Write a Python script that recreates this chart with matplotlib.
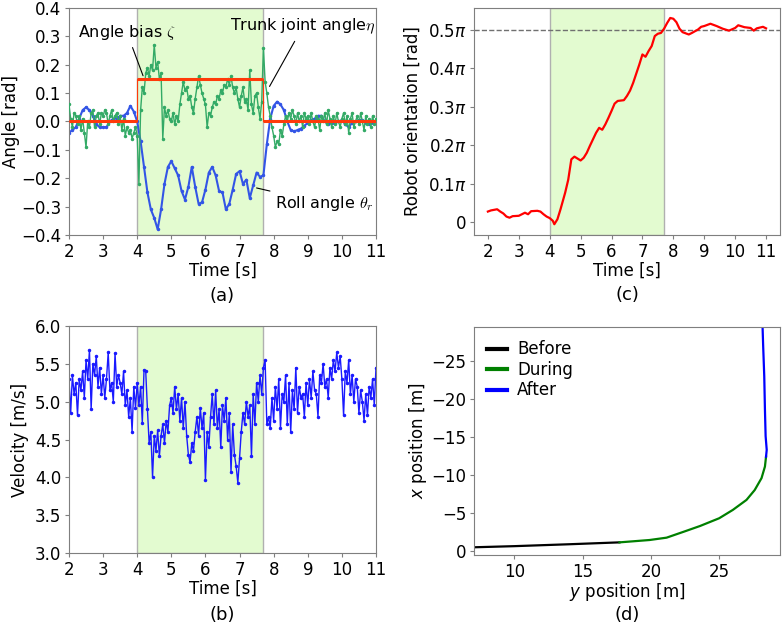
import numpy as np
import matplotlib
matplotlib.use("Agg")
import matplotlib.pyplot as plt

plt.rcParams['font.family'] = ['DejaVu Sans']
plt.rcParams['font.size'] = 12
plt.rcParams['mathtext.fontset'] = 'dejavusans'

# disturbance window
t_on, t_off = 4.0, 7.7

# (a) trunk joint angle, sampled every 0.05 s from 2 s
trunk = [0.06, 0.01, -0.02, 0.03, 0.02, -0.01, 0.02, -0.03, 0.01, -0.04,
         -0.09, 0.00, -0.02, 0.03, 0.04, -0.02, 0.02, 0.03, -0.01, 0.03,
         0.02, 0.04, 0.03, -0.01, 0.02, 0.04, 0.00, 0.02, 0.03, -0.01,
         0.02, -0.03, 0.01, -0.05, -0.02, -0.04, -0.03, -0.06, -0.04, -0.02,
         -0.05, -0.22, 0.04, 0.12, 0.10, 0.17, 0.19, 0.16, 0.20, 0.18,
         0.27, 0.19, 0.21, 0.15, 0.17, -0.06, 0.05, 0.02, 0.04, 0.01,
         0.00, 0.03, -0.01, 0.02, 0.00, 0.06, 0.10, 0.14, 0.11, 0.12,
         0.08, 0.09, 0.05, 0.03, 0.08, 0.12, 0.16, 0.13, 0.10, 0.08,
         0.06, -0.02, 0.03, 0.02, 0.05, 0.07, 0.06, 0.09, 0.08, 0.11,
         0.10, 0.13, 0.12, 0.15, 0.13, 0.16, 0.12, 0.10, 0.12, 0.08,
         0.05, 0.09, 0.12, 0.07, 0.08, 0.04, 0.18, 0.06, 0.03, 0.09,
         0.10, 0.05, 0.01, 0.07, 0.26, 0.14, 0.10, 0.05, 0.02, -0.02,
         -0.05, -0.09, -0.07, -0.08, -0.03, -0.05, -0.01, 0.02, 0.00, 0.03,
         0.01, 0.04, 0.02, -0.01, 0.03, 0.00, 0.02, -0.02, 0.03, 0.01,
         0.02, -0.01, 0.03, 0.00, -0.02, 0.02, 0.01, -0.03, 0.02, 0.00,
         0.03, -0.01, 0.04, 0.01, -0.02, 0.02, -0.01, 0.03, 0.00, -0.02,
         0.01, 0.03, -0.01, 0.02, -0.04, 0.01, 0.03, -0.02, 0.00, 0.02,
         -0.01, 0.03, 0.00, -0.03, 0.02, -0.01, 0.01, -0.02, 0.02, -0.01,
         0.01]

# (a) roll angle, sampled every 0.1 s from 2 s
roll = [-0.04, -0.03, -0.02, 0.01, 0.04, 0.05, 0.04, 0.02, -0.01, -0.02,
        -0.02, -0.02, 0.00, 0.01, 0.01, 0.02, 0.02, 0.03, 0.055, 0.035,
        0.00, -0.07, -0.16, -0.25, -0.31, -0.34, -0.38, -0.31, -0.22, -0.16,
        -0.14, -0.165, -0.19, -0.245, -0.275, -0.23, -0.16, -0.23, -0.29, -0.285,
        -0.24, -0.18, -0.16, -0.19, -0.245, -0.25, -0.31, -0.29, -0.24, -0.185,
        -0.175, -0.22, -0.205, -0.27, -0.225, -0.18, -0.195, -0.19, -0.08, 0.01,
        0.055, 0.07, 0.06, 0.04, 0.00, -0.03, -0.035, -0.03, -0.025, -0.015,
        -0.005, 0.005, 0.01, 0.02, 0.02, 0.00, -0.01, -0.005, -0.005, 0.00,
        0.005, -0.01, -0.02, -0.005, 0.00, 0.005, 0.005, -0.005, -0.01, -0.005,
        0.00]

# (a) angle bias steps
bias_t = [2.0, 4.0, 7.7, 11.0]
bias_v = [0.0, 0.15, 0.0, 0.0]

# (b) velocity, sampled every 0.05 s from 2 s
velocity = [5.30, 4.85, 5.35, 5.10, 5.25, 4.82, 5.30, 5.15, 5.40, 5.05,
            5.55, 5.30, 5.68, 4.90, 5.50, 5.35, 5.60, 5.20, 5.45, 5.10,
            5.35, 5.05, 5.30, 5.65, 5.15, 5.25, 5.00, 5.64, 5.20, 5.35,
            5.25, 5.10, 5.40, 4.95, 5.15, 4.80, 5.05, 4.60, 5.20, 4.92,
            5.25, 4.95, 5.20, 4.72, 5.42, 5.40, 4.90, 4.45, 4.60, 4.00,
            4.55, 4.35, 4.62, 4.28, 4.55, 4.70, 4.45, 4.75, 4.60, 4.95,
            5.05, 4.85, 5.20, 4.90, 5.10, 4.75, 5.05, 4.65, 5.00, 4.55,
            4.30, 4.20, 4.45, 4.35, 4.60, 4.80, 4.55, 4.92, 4.65, 4.85,
            3.96, 4.60, 4.40, 4.80, 5.10, 4.70, 5.15, 4.65, 4.90, 4.40,
            4.95, 4.75, 5.05, 4.50, 4.85, 4.07, 4.70, 4.30, 4.15, 3.93,
            4.25, 4.60, 4.85, 4.70, 5.00, 4.80, 4.95, 4.28, 5.10, 4.70,
            5.25, 5.00, 5.35, 5.10, 5.45, 5.55, 4.70, 4.80, 4.65, 5.05,
            4.75, 5.20, 4.90, 5.30, 4.65, 5.10, 5.00, 5.35, 4.70, 5.25,
            4.60, 5.15, 4.90, 5.45, 4.85, 5.20, 5.05, 5.10, 4.80, 5.25,
            4.95, 5.30, 5.05, 5.40, 5.15, 5.10, 4.80, 5.35, 5.25, 5.50,
            5.20, 5.30, 5.05, 5.45, 5.30, 5.55, 5.40, 5.65, 5.45, 5.60,
            5.30, 4.82, 5.40, 5.25, 5.55, 5.10, 5.35, 5.00, 5.30, 5.20,
            4.85, 5.15, 5.00, 4.75, 5.10, 4.82, 5.20, 5.05, 5.30, 4.95,
            5.45]

# (c) robot orientation in units of pi
orient_t = [2.0, 2.1, 2.3, 2.4, 2.5, 2.6, 2.7, 2.8, 3.0, 3.2, 3.3, 3.4, 3.6,
            3.7, 3.8, 3.9, 4.0, 4.1, 4.15, 4.25, 4.35, 4.5, 4.6, 4.7, 4.8,
            4.9, 5.0, 5.1, 5.2, 5.3, 5.4, 5.5, 5.6, 5.7, 5.8, 5.9, 6.0, 6.1,
            6.2, 6.4, 6.5, 6.6, 6.7, 6.8, 6.9, 7.0, 7.1, 7.2, 7.3, 7.4, 7.5,
            7.6, 7.7, 7.8, 7.9, 8.0, 8.1, 8.2, 8.3, 8.5, 8.6, 8.8, 8.9, 9.0,
            9.2, 9.4, 9.6, 9.8, 10.0, 10.1, 10.3, 10.5, 10.6, 10.7, 10.9, 11.0]
orient = [0.027, 0.030, 0.033, 0.027, 0.022, 0.014, 0.011, 0.015, 0.016,
          0.024, 0.020, 0.028, 0.029, 0.027, 0.020, 0.014, 0.010, 0.003,
          -0.006, 0.007, 0.033, 0.076, 0.110, 0.163, 0.170, 0.165, 0.160,
          0.167, 0.180, 0.198, 0.215, 0.232, 0.245, 0.240, 0.254, 0.271,
          0.289, 0.308, 0.315, 0.317, 0.328, 0.342, 0.362, 0.386, 0.410,
          0.436, 0.430, 0.445, 0.458, 0.484, 0.490, 0.492, 0.503, 0.518,
          0.531, 0.529, 0.520, 0.503, 0.494, 0.488, 0.492, 0.501, 0.508,
          0.510, 0.516, 0.510, 0.503, 0.498, 0.505, 0.512, 0.507, 0.505,
          0.498, 0.504, 0.508, 0.504]

# (d) trajectory (y position, x position) per phase
before_y = [6.0, 10.0, 14.0, 17.7]
before_x = [-0.40, -0.60, -0.85, -1.10]
during_y = [17.7, 19.9, 21.15, 22.4, 23.6, 25.0, 26.0, 27.0, 27.6, 28.1, 28.35, 28.43]
during_x = [-1.10, -1.41, -1.72, -2.5, -3.26, -4.28, -5.38, -6.7, -8.0, -9.57, -11.1, -12.4]
after_y = [28.43, 28.48, 28.40, 28.35, 28.30, 28.22, 28.15]
after_x = [-12.4, -13.3, -15.1, -18.6, -23.0, -27.0, -31.0]

shade = '#e3fbd0'
spine_col = '#7f7f7f'


def style(ax):
    for s in ax.spines.values():
        s.set_color(spine_col)
    ax.tick_params(color=spine_col, labelsize=12, length=3, pad=2.5)


def window(ax):
    ax.axvspan(t_on, t_off, facecolor=shade, edgecolor='#b0b0b0', lw=1.0, zorder=0)


fig = plt.figure(figsize=(7.82, 6.29), dpi=100)
ax_a = fig.add_axes([0.0882, 0.6264, 0.3926, 0.3609])
ax_c = fig.add_axes([0.6061, 0.6264, 0.3913, 0.3609])
ax_b = fig.add_axes([0.0882, 0.1208, 0.3926, 0.3609])
ax_d = fig.add_axes([0.6061, 0.1176, 0.3913, 0.3625])

# (a)
t_trunk = 2.0 + 0.05 * np.arange(len(trunk))
t_roll = 2.0 + 0.1 * np.arange(len(roll))
window(ax_a)
ax_a.plot(t_roll, roll, color='#3355e6', lw=1.5, marker='.', ms=3, zorder=2)
ax_a.plot(t_trunk, trunk, color='#33aa66', lw=1.0, marker='.', ms=3, zorder=3)
ax_a.plot(bias_t, bias_v, drawstyle='steps-post', color='#ff3a0a', lw=0.8, zorder=4)
ax_a.hlines(bias_v[:-1], bias_t[:-1], bias_t[1:], color='#ff3a0a', lw=2.2, zorder=4)
ax_a.set_xlim(2, 11)
ax_a.set_ylim(-0.4, 0.4)
ax_a.set_xticks(range(2, 12))
ax_a.set_yticks(np.arange(-0.4, 0.41, 0.1))
ax_a.set_yticklabels(['\u22120.4', '\u22120.3', '\u22120.2', '\u22120.1', '0.0',
                      '0.1', '0.2', '0.3', '0.4'])
ax_a.set_xlabel('Time [s]', labelpad=1)
ax_a.set_ylabel('Angle [rad]', labelpad=1)
arr = dict(arrowstyle='-', color='black', lw=0.8)
ax_a.annotate(r'Angle bias $\zeta$', xy=(4.2, 0.152), xytext=(3.7, 0.313),
              ha='center', va='center', fontsize=11.5, arrowprops=arr,
              math_fontfamily='cm')
ax_a.annotate(r'Trunk joint angle$\eta$', xy=(7.84, 0.115), xytext=(8.86, 0.335),
              ha='center', va='center', fontsize=11.5, arrowprops=arr,
              math_fontfamily='cm')
ax_a.annotate(r'Roll angle $\theta_r$', xy=(7.42, -0.232), xytext=(9.5, -0.29),
              ha='center', va='center', fontsize=11.5, arrowprops=arr,
              math_fontfamily='cm')
style(ax_a)

# (c)
window(ax_c)
ax_c.axhline(0.5, color='#707070', ls='--', lw=1.0)
ax_c.plot(orient_t, orient, color='#ff0000', lw=1.6)
ax_c.set_xlim(1.55, 11.45)
ax_c.set_ylim(-0.034, 0.557)
ax_c.set_xticks(range(2, 12))
ax_c.set_yticks([0, 0.1, 0.2, 0.3, 0.4, 0.5])
ax_c.set_yticklabels(['0', r'0.1$\pi$', r'0.2$\pi$', r'0.3$\pi$', r'0.4$\pi$', r'0.5$\pi$'])
ax_c.set_xlabel('Time [s]', labelpad=1)
ax_c.set_ylabel('Robot orientation [rad]', labelpad=4)
style(ax_c)

# (b)
t_vel = 2.0 + 0.05 * np.arange(len(velocity))
window(ax_b)
ax_b.plot(t_vel, velocity, color='#1a1aff', lw=1.0, marker='.', ms=3)
ax_b.set_xlim(2, 11)
ax_b.set_ylim(3, 6)
ax_b.set_xticks(range(2, 12))
ax_b.set_yticks(np.arange(3.0, 6.01, 0.5))
ax_b.set_yticklabels(['3.0', '3.5', '4.0', '4.5', '5.0', '5.5', '6.0'])
ax_b.set_xlabel('Time [s]', labelpad=1)
ax_b.set_ylabel('Velocity [m/s]', labelpad=4)
style(ax_b)

# (d)
ax_d.plot(before_y, before_x, color='black', lw=1.6, label='Before')
ax_d.plot(during_y, during_x, color='green', lw=1.6, label='During')
ax_d.plot(after_y, after_x, color='blue', lw=1.6, label='After')
ax_d.set_xlim(7.05, 29.45)
ax_d.set_ylim(0.57, -29.5)
ax_d.set_xticks([10, 15, 20, 25])
ax_d.set_yticks([0, -5, -10, -15, -20, -25])
ax_d.set_yticklabels(['0', '\u22125', '\u221210', '\u221215', '\u221220', '\u221225'])
ax_d.set_xlabel(r'$y$ position [m]', labelpad=0)
ax_d.set_ylabel(r'$x$ position [m]', labelpad=2)
leg = ax_d.legend(loc='upper left', frameon=False, fontsize=12, handlelength=1.2,
                  handletextpad=0.6, labelspacing=0.15, borderaxespad=0.5,
                  borderpad=0.3)
for h in leg.get_lines():
    h.set_linewidth(3)
style(ax_d)

# panel labels
fig.text(0.284, 0.529, '(a)', ha='center', va='center', fontsize=13)
fig.text(0.802, 0.531, '(c)', ha='center', va='center', fontsize=13)
fig.text(0.284, 0.022, '(b)', ha='center', va='center', fontsize=13)
fig.text(0.802, 0.022, '(d)', ha='center', va='center', fontsize=13)

fig.savefig('out.png', dpi=100)
